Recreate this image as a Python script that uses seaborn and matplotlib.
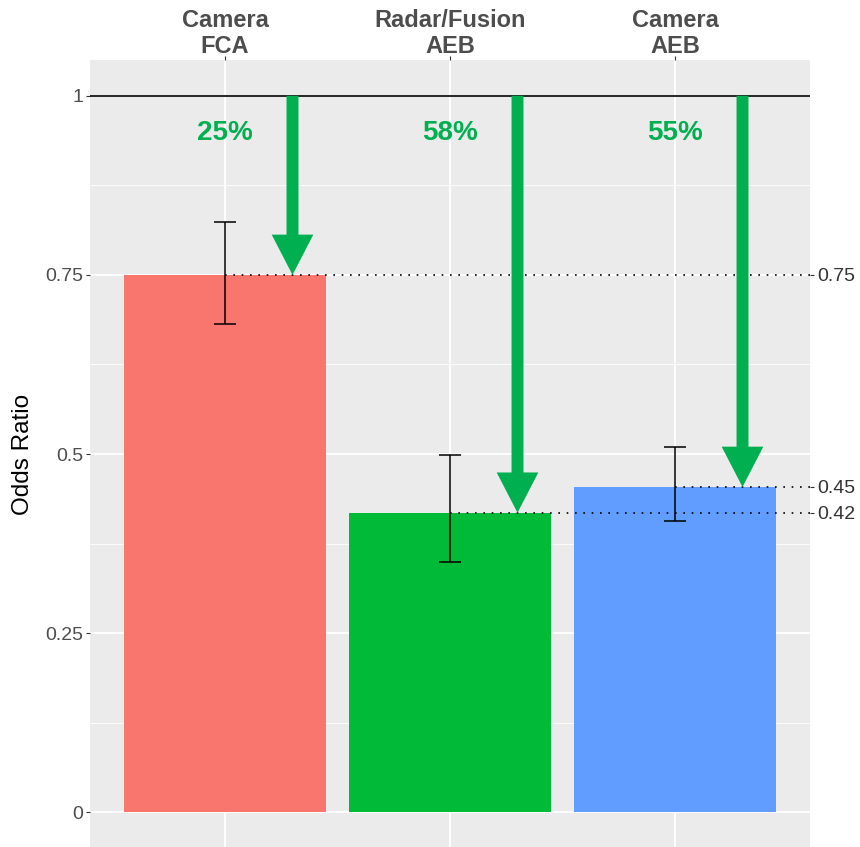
import numpy as np
import pandas as pd
import matplotlib
matplotlib.use('Agg')
import matplotlib.pyplot as plt
import seaborn as sns

# Datos
sistemas = ['Camera\nFCA', 'Radar/Fusion\nAEB', 'Camera\nAEB']
odds_ratio = [0.75, 0.418, 0.454]
ic_bajo = [0.682, 0.349, 0.406]
ic_alto = [0.824, 0.498, 0.510]
colores = ['#F8766D', '#00BA38', '#619CFF']
verde = '#00B050'

df = pd.DataFrame({'sistema': sistemas, 'odds': odds_ratio,
                   'lo': ic_bajo, 'hi': ic_alto})

sns.set_theme(style='darkgrid', rc={
    'axes.facecolor': '#EBEBEB',
    'grid.color': 'white',
})
plt.rcParams['font.family'] = ['Liberation Sans', 'DejaVu Sans']

fig = plt.figure(figsize=(8.6, 8.47), dpi=100)
ax = fig.add_axes([90 / 860, -1 / 847, 720 / 860, 788 / 847])

sns.barplot(data=df, x='sistema', y='odds', hue='sistema', order=sistemas,
            hue_order=sistemas, palette=colores, width=0.9, legend=False,
            errorbar=None, saturation=1, linewidth=0, ax=ax, zorder=2)

pos = np.arange(len(sistemas))
odds = df['odds'].to_numpy()
ax.errorbar(pos, odds, yerr=[odds - df['lo'], df['hi'] - odds], fmt='none',
            ecolor='black', elinewidth=1.1, capsize=8.0, capthick=1.1, zorder=4)

ax.set_xlim(-0.6, 2.6)
ax.set_ylim(-0.05, 1.05)

# línea de referencia en 1
ax.axhline(1, color='black', lw=1.2, zorder=3)

# líneas punteadas desde el centro de cada barra hasta el borde derecho
for p, v in zip(pos, odds):
    ax.hlines(v, p, 2.6, colors='black', linestyles=(0, (1, 4)), lw=1.2, zorder=3)

# flechas de reducción y porcentajes
for p, v in zip(pos, odds):
    ax.annotate('', xy=(p + 0.3, v), xytext=(p + 0.3, 1),
                arrowprops=dict(arrowstyle='simple,head_width=30,head_length=29,tail_width=8.6',
                                mutation_scale=1, color=verde, lw=0,
                                shrinkA=0, shrinkB=0), zorder=5)
    ax.text(p, 0.948, f'{round((1 - v) * 100)}%', color=verde, fontsize=20,
            fontweight='bold', ha='center', va='center', zorder=5)

# ejes
ax.xaxis.tick_top()
ax.set_xlabel('')
ax.set_ylabel('Odds Ratio', fontsize=17.5, color='black', labelpad=8)
ax.set_yticks([0, 0.25, 0.5, 0.75, 1])
ax.set_yticklabels(['0', '0.25', '0.5', '0.75', '1'])
ax.set_yticks([0.125, 0.375, 0.625, 0.875], minor=True)
ax.grid(which='major', color='white', lw=1.3)
ax.grid(which='minor', color='white', lw=0.6)
ax.tick_params(axis='y', which='major', left=True, length=3, width=0.8,
               color='#333333', labelsize=14, labelcolor='#4D4D4D', pad=2)
ax.tick_params(axis='y', which='minor', left=False, length=0)
ax.tick_params(axis='x', top=True, bottom=False, length=3, width=0.8,
               color='#333333', labelsize=17, labelcolor='#4D4D4D', pad=-1.5)
for lbl in ax.get_xticklabels():
    lbl.set_fontweight('bold')
    lbl.set_linespacing(1.15)
for s in ax.spines.values():
    s.set_visible(False)

# eje secundario con los valores de cada barra
ax2 = ax.twinx()
ax2.set_ylim(ax.get_ylim())
ax2.set_yticks(odds)
ax2.set_yticklabels([f'{v:.2f}' for v in odds])
ax2.grid(False)
ax2.set_facecolor('none')
ax2.tick_params(axis='y', right=True, length=3, width=0.8, color='#333333',
                labelsize=14, labelcolor='#333333', pad=2)
for s in ax2.spines.values():
    s.set_visible(False)

fig.savefig('out.png', dpi=100)
